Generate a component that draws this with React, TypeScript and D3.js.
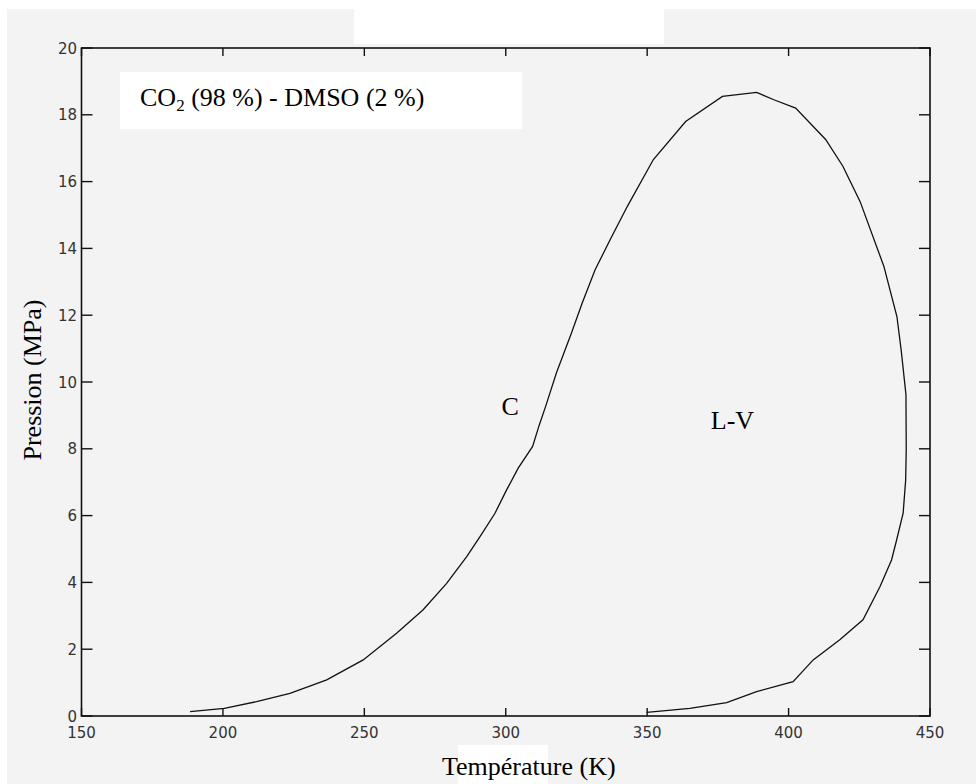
import React from "react";
import * as d3 from "d3";

const temperature = [188.4, 200.5, 211.9, 223.7, 236.7, 249.6, 261.4, 270.8, 279.1, 286.2, 290.9, 296.2, 300.3, 304.4, 309.5, 311.8, 314.1, 317.9, 323.2, 327.0, 331.6, 336.9, 343.0, 352.2, 363.6, 376.6, 388.7, 394.8, 402.5, 413.1, 419.2, 425.3, 433.7, 438.3, 439.8, 441.5, 441.6, 441.4, 440.5, 438.2, 436.4, 432.3, 426.3, 418.1, 408.7, 401.6, 388.7, 378.1, 365.1, 349.8];
const pressure = [0.13, 0.23, 0.43, 0.68, 1.08, 1.68, 2.48, 3.18, 3.97, 4.77, 5.37, 6.07, 6.77, 7.42, 8.07, 8.7, 9.27, 10.27, 11.46, 12.36, 13.36, 14.26, 15.26, 16.66, 17.8, 18.55, 18.67, 18.45, 18.2, 17.26, 16.46, 15.4, 13.46, 11.96, 10.96, 9.62, 8.0, 7.07, 6.07, 5.27, 4.67, 3.87, 2.88, 2.28, 1.68, 1.03, 0.73, 0.4, 0.23, 0.11];
const xTicks = [150, 200, 250, 300, 350, 400, 450];
const yTicks = [0, 2, 4, 6, 8, 10, 12, 14, 16, 18, 20];
const title = "CO";
const titleRest = " (98 %) - DMSO (2 %)";
const regionLabels = [
  { text: "C", t: 298.5, p: 9.0 },
  { text: "L-V", t: 372.5, p: 8.6 },
];

export default function App() {
  const W = 976, H = 784;
  const x = d3.scaleLinear().domain([150, 450]).range([81.5, 930]);
  const y = d3.scaleLinear().domain([0, 20]).range([716, 48]);
  const pts = temperature.map((t, i) => [t, pressure[i]] as [number, number]);
  const line = d3.line<[number, number]>().x(d => x(d[0])).y(d => y(d[1]));
  const serif = "'Liberation Serif', 'Times New Roman', serif";
  const sans = "'DejaVu Sans', sans-serif";
  const x0 = x(150), x1 = x(450), y0 = y(0), y1 = y(20);
  return (
    <svg width={W} height={H} style={{ position: "absolute", left: 0, top: 0 }}>
      <rect x={0} y={0} width={W} height={H} fill="#ffffff" />
      <rect x={7} y={9} width={W - 7} height={H - 9} fill="#f3f3f3" />
      <rect x={354} y={0} width={310} height={44} fill="#ffffff" />
      <rect x={120} y={72} width={402} height={57} fill="#ffffff" />
      <rect x={458} y={745} width={90} height={39} fill="#ffffff" />
      {/* frame */}
      <rect x={x0} y={y1} width={x1 - x0} height={y0 - y1} fill="none" stroke="#111" strokeWidth={1.6} />
      {xTicks.map(t => (
        <g key={"xt" + t}>
          <line x1={x(t)} x2={x(t)} y1={y0} y2={y0 - 8} stroke="#111" strokeWidth={1.4} />
          <line x1={x(t)} x2={x(t)} y1={y1} y2={y1 + 8} stroke="#111" strokeWidth={1.4} />
          <text x={x(t)} y={738} textAnchor="middle" fontFamily={sans} fontSize={15} fill="#333">{t}</text>
        </g>
      ))}
      {yTicks.map(p => (
        <g key={"yt" + p}>
          <line x1={x0} x2={x0 + 11} y1={y(p)} y2={y(p)} stroke="#111" strokeWidth={1.4} />
          <line x1={x1} x2={x1 - 11} y1={y(p)} y2={y(p)} stroke="#111" strokeWidth={1.4} />
          <text x={77} y={y(p) + 5.5} textAnchor="end" fontFamily={sans} fontSize={15} fill="#333">{p}</text>
        </g>
      ))}
      <path d={line(pts) || ""} fill="none" stroke="#111" strokeWidth={1.3} />
      <text x={140} y={106} fontFamily={serif} fontSize={26} fill="#000">
        {title}
        <tspan fontSize={17} dy={5}>2</tspan>
        <tspan dy={-5}>{titleRest}</tspan>
      </text>
      {regionLabels.map(l => (
        <text key={l.text} x={x(l.t)} y={y(l.p)} fontFamily={serif} fontSize={26} fill="#000">{l.text}</text>
      ))}
      <text x={442} y={775} fontFamily={serif} fontSize={26} fill="#000">Température (K)</text>
      <text transform={`translate(41,${380}) rotate(-90)`} textAnchor="middle" fontFamily={serif} fontSize={26} fill="#000">Pression (MPa)</text>
    </svg>
  );
}
